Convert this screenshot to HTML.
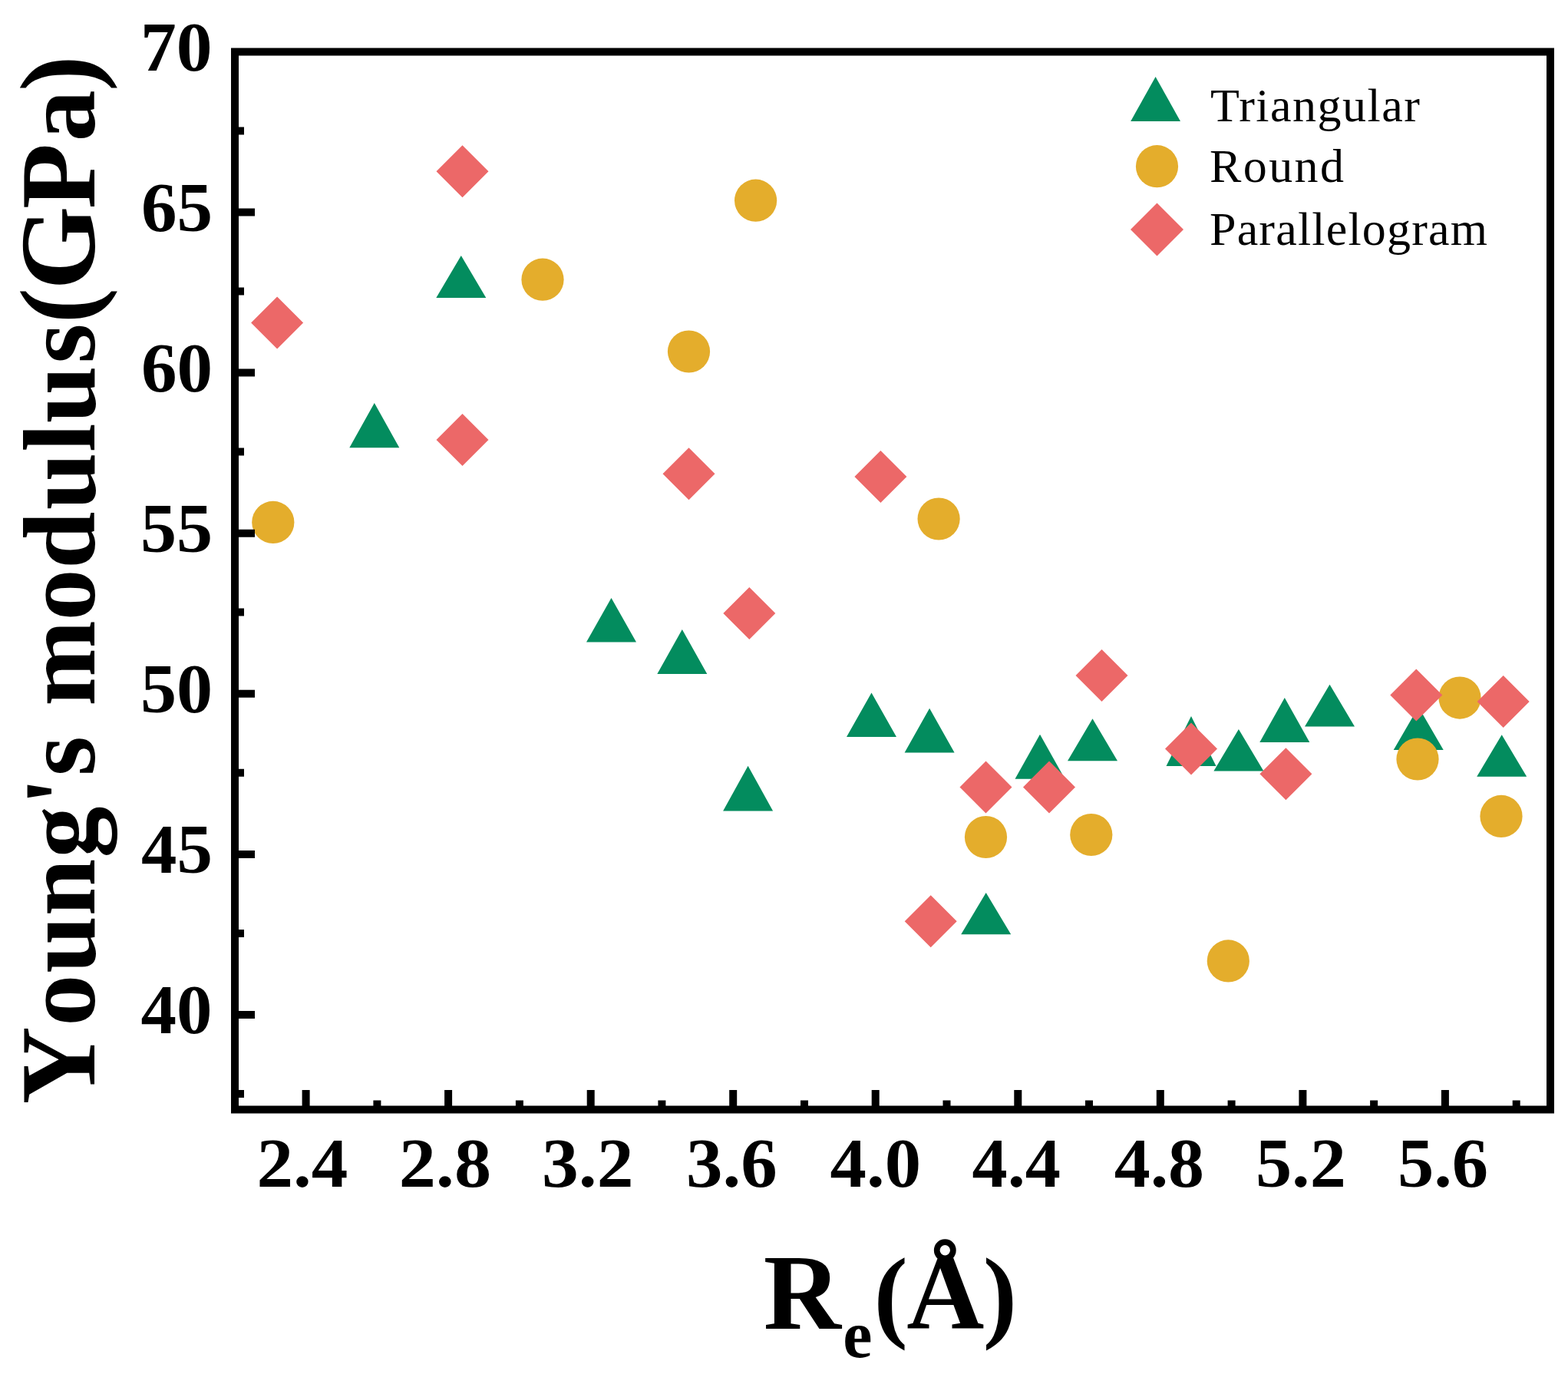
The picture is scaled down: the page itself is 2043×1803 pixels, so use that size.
<!DOCTYPE html>
<html lang="en"><head><meta charset="utf-8"><title>Young's modulus vs Re</title>
<style>html,body{margin:0;padding:0;background:#fff;overflow:hidden}svg{display:block}</style>
</head><body>
<svg width="2043" height="1803" viewBox="0 0 2043 1803"><rect width="2043" height="1803" fill="#fff"/><path fill="#038c5e" d="M487.8 525.1L520.3 583.2H455.3ZM600.8 333.1L633.3 387.9H568.3ZM796.5 778.9L829 836.5H764ZM888.8 820.1L921.3 877.9H856.3ZM974.6 997.7L1007.1 1056.5H942.1ZM1135.5 902.4L1168 960.1H1103ZM1211.1 922.7L1243.6 980.5H1178.6ZM1284.7 1163L1317.2 1217.3H1252.2ZM1355 956.7L1387.5 1014.7H1322.5ZM1423.5 936.3L1456 991.2H1391ZM1552 933L1584.5 998H1519.5ZM1613.9 950.1L1646.4 1004.6H1581.4ZM1673.8 909L1706.3 966.9H1641.3ZM1732.5 891.7L1765 946.6H1700ZM1848.2 921L1880.7 977.1H1815.7ZM1956.7 957.2L1989.2 1011.7H1924.2Z"/>
<g fill="#e4ad2c"><circle cx="355.8" cy="680.4" r="27.6"/><circle cx="707" cy="364.2" r="27.6"/><circle cx="897.5" cy="458" r="27.6"/><circle cx="984.6" cy="261.2" r="27.6"/><circle cx="1223.1" cy="676" r="27.6"/><circle cx="1284.5" cy="1090.5" r="27.6"/><circle cx="1421.8" cy="1087.5" r="27.6"/><circle cx="1600.3" cy="1251.9" r="27.6"/><circle cx="1847" cy="989" r="27.6"/><circle cx="1902" cy="909.1" r="27.6"/><circle cx="1956" cy="1063.4" r="27.6"/></g>
<path fill="#ec6868" d="M361.1 386.6L395.1 420.6L361.1 454.6L327.1 420.6ZM602.5 189.3L636.5 223.3L602.5 257.3L568.5 223.3ZM602.5 539L636.5 573L602.5 607L568.5 573ZM897.5 583.3L931.5 617.3L897.5 651.3L863.5 617.3ZM976.3 765L1010.3 799L976.3 833L942.3 799ZM1147.4 587.1L1181.4 621.1L1147.4 655.1L1113.4 621.1ZM1212.7 1166.2L1246.7 1200.2L1212.7 1234.2L1178.7 1200.2ZM1284.5 991.4L1318.5 1025.4L1284.5 1059.4L1250.5 1025.4ZM1367 991.4L1401 1025.4L1367 1059.4L1333 1025.4ZM1435.5 846L1469.5 880L1435.5 914L1401.5 880ZM1552 941.6L1586 975.6L1552 1009.6L1518 975.6ZM1675.4 974.3L1709.4 1008.3L1675.4 1042.3L1641.4 1008.3ZM1845.3 871.5L1879.3 905.5L1845.3 939.5L1811.3 905.5ZM1958.7 879.9L1992.7 913.9L1958.7 947.9L1924.7 913.9Z"/>
<path fill="#000" d="M311 1317h21v10h-21zM311 1107.9h21v10h-21zM311 898.8h21v10h-21zM311 689.7h21v10h-21zM311 480.6h21v10h-21zM311 271.5h21v10h-21zM311 1420h7v10h-7zM311 1210.9h7v10h-7zM311 1001.8h7v10h-7zM311 792.6h7v10h-7zM311 583.5h7v10h-7zM311 374.4h7v10h-7zM311 165.4h7v10h-7zM393.6 1441v-21h10v21zM579.1 1441v-21h10v21zM764.7 1441v-21h10v21zM950.2 1441v-21h10v21zM1135.7 1441v-21h10v21zM1321.3 1441v-21h10v21zM1506.8 1441v-21h10v21zM1692.4 1441v-21h10v21zM1877.9 1441v-21h10v21zM486.4 1441v-7.5h10v7.5zM671.9 1441v-7.5h10v7.5zM857.4 1441v-7.5h10v7.5zM1043 1441v-7.5h10v7.5zM1228.5 1441v-7.5h10v7.5zM1414 1441v-7.5h10v7.5zM1599.6 1441v-7.5h10v7.5zM1785.1 1441v-7.5h10v7.5zM1970.7 1441v-7.5h10v7.5z"/>
<rect x="306" y="67.5" width="1714" height="1378" fill="none" stroke="#000" stroke-width="10"/>
<g font-family="Liberation Serif, serif" font-weight="bold" font-size="90" fill="#000"><text transform="matrix(1.0402 0 0 1 276.52 91.7)" text-anchor="end">70</text><text transform="matrix(1.0333 0 0 1 277.10 301.0)" text-anchor="end">65</text><text transform="matrix(1.0333 0 0 1 277.10 510.0)" text-anchor="end">60</text><text transform="matrix(1.0458 0 0 1 277.14 719.0)" text-anchor="end">55</text><text transform="matrix(1.0458 0 0 1 277.14 928.0)" text-anchor="end">50</text><text transform="matrix(1.0314 0 0 1 276.79 1137.1)" text-anchor="end">45</text><text transform="matrix(1.0326 0 0 1 276.50 1346.4)" text-anchor="end">40</text><text transform="matrix(1.0561 0 0 1 393.82 1545.8)" text-anchor="middle">2.4</text><text transform="matrix(1.0705 0 0 1 579.86 1545.8)" text-anchor="middle">2.8</text><text transform="matrix(1.0619 0 0 1 765.68 1545.8)" text-anchor="middle">3.2</text><text transform="matrix(1.0551 0 0 1 953.42 1545.8)" text-anchor="middle">3.6</text><text transform="matrix(1.0528 0 0 1 1140.80 1545.8)" text-anchor="middle">4.0</text><text transform="matrix(1.0255 0 0 1 1324.30 1545.8)" text-anchor="middle">4.4</text><text transform="matrix(1.0435 0 0 1 1510.39 1545.8)" text-anchor="middle">4.8</text><text transform="matrix(1.0486 0 0 1 1694.87 1545.8)" text-anchor="middle">5.2</text><text transform="matrix(1.0505 0 0 1 1879.97 1545.8)" text-anchor="middle">5.6</text></g>
<text transform="translate(122.8 1440.0) rotate(-90)" y="0" font-family="Liberation Serif, serif" font-weight="bold" font-size="140"><tspan x="1.5" font-size="140">Y</tspan><tspan x="103.3 172.2 246.7 322.4 390.4 429.0 481.1 520.2 631.5 699.0 775.8 851.2 888.7 966.5" font-size="134">oung&#39;s modulus</tspan><tspan x="1018.5 1062.4 1167.8" font-size="140">(GP</tspan><tspan x="1255.7" font-size="134">a</tspan><tspan x="1321.0" font-size="140">)</tspan></text>
<text font-family="Liberation Serif, serif" font-weight="bold" font-size="140" y="1731.2"><tspan x="994.7">R</tspan><tspan x="1098.3" y="1768.3" font-size="86">e</tspan><tspan x="1138.4" y="1731.2" font-size="133">(</tspan><tspan x="1181.2">Å</tspan><tspan x="1280.8" font-size="133">)</tspan></text>
<path fill="#038c5e" d="M1505.6 100L1538 158H1473.2Z"/>
<circle cx="1507.5" cy="216.7" r="27.6" fill="#e4ad2c"/>
<path fill="#ec6868" d="M1507.5 264.4L1542 298.9L1507.5 333.4L1473 298.9Z"/>
<g font-family="Liberation Serif, serif" font-size="62" fill="#000"><text x="1577" y="158" textLength="273" lengthAdjust="spacing">Triangular</text><text x="1576" y="237" textLength="175" lengthAdjust="spacing">Round</text><text x="1576" y="319" textLength="362" lengthAdjust="spacing">Parallelogram</text></g></svg>
</body></html>
